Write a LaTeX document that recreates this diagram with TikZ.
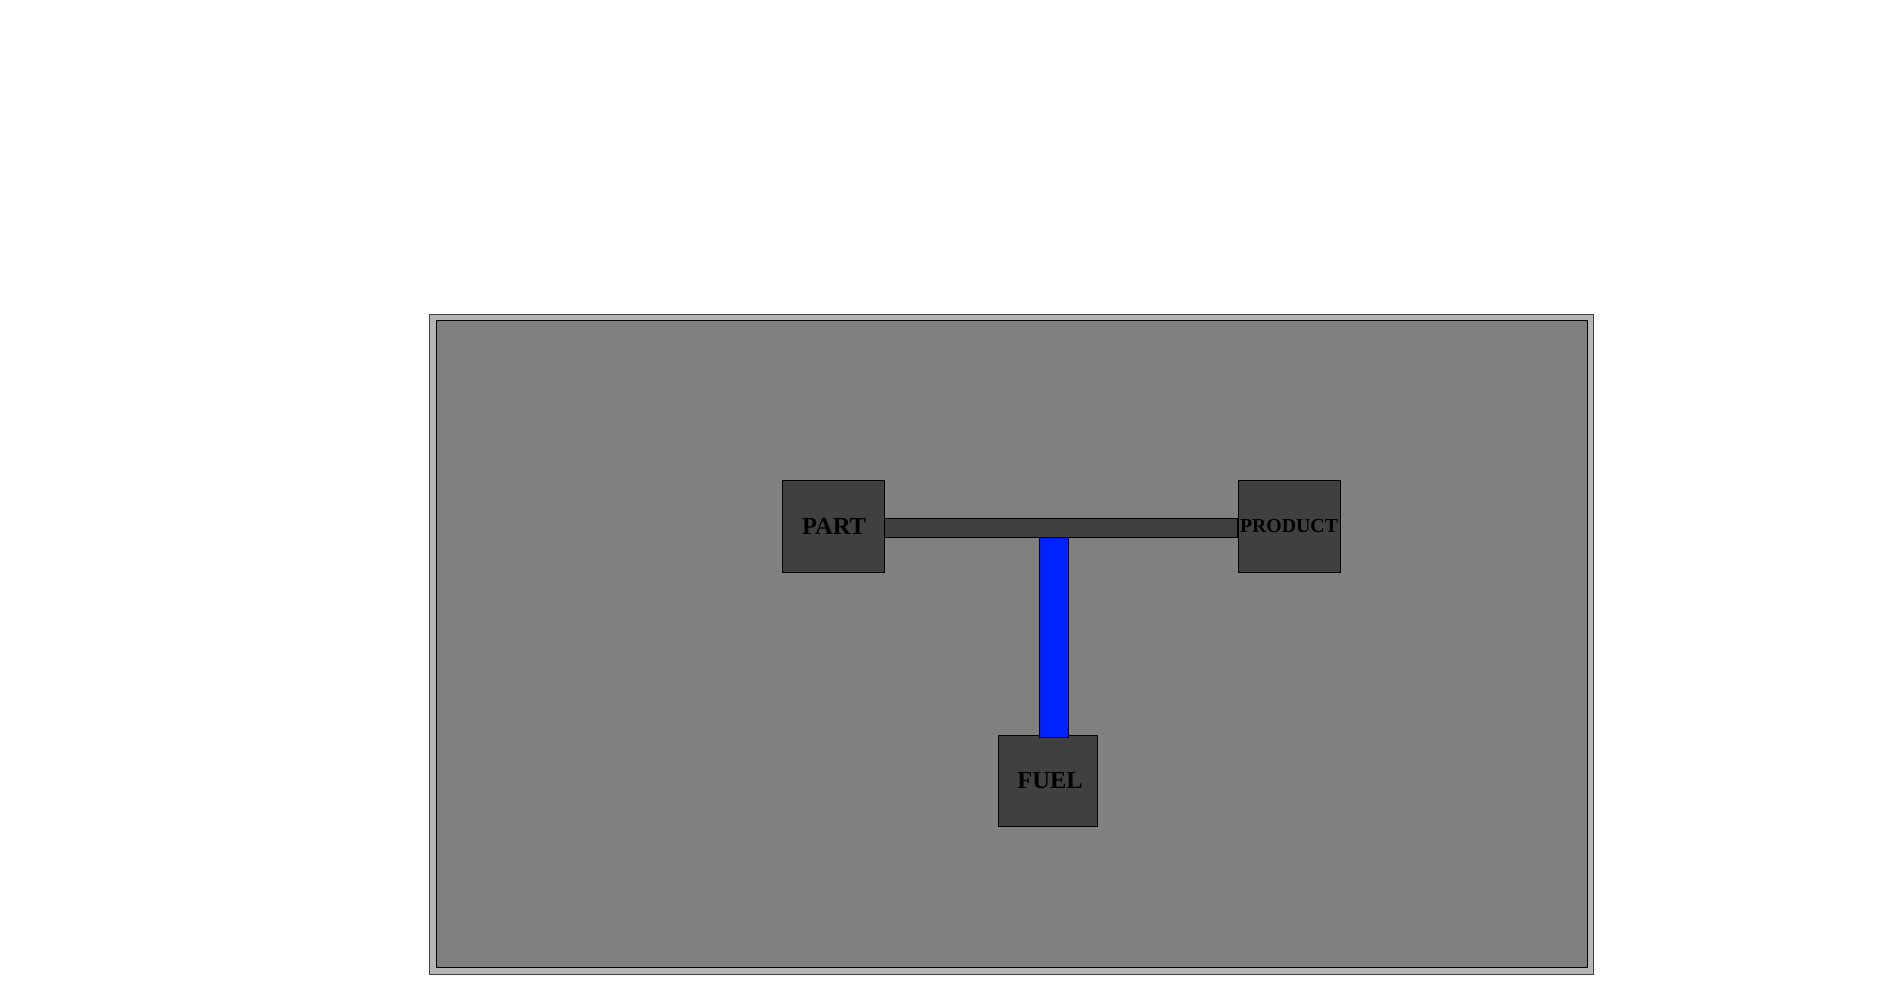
\documentclass[tikz,border=0pt]{standalone}
\usepackage{fontspec}
\setmainfont{Liberation Serif}
\definecolor{outerg}{HTML}{B6B6B6}
\definecolor{innerg}{HTML}{808080}
\definecolor{boxg}{HTML}{404040}
\definecolor{fuelblue}{HTML}{0022FF}
\begin{document}
\begin{tikzpicture}[x=1pt,y=-1pt,
  unitbox/.style={draw=black,line width=1pt,fill=boxg,minimum width=102pt,minimum height=92pt,inner sep=0pt,text=black,font=\bfseries},
  barline/.style={draw=black,line width=1pt}]
\useasboundingbox (0,0) rectangle (1900,1000);
\fill[white] (0,0) rectangle (1900,1000);
% frame
\draw[line width=1pt,draw=black!75,fill=outerg] (429,314) rectangle (1593,974);
\draw[line width=1pt,draw=black,fill=innerg] (436,320) rectangle (1587,967);
% units
\node[unitbox] (part) at (833,526) {\hspace{2pt}\fontsize{24.5}{24.5}\selectfont PART};
\node[unitbox] (product) at (1289,526.5) {\fontsize{19.8}{19.8}\selectfont PRODUCT};
\node[unitbox,minimum width=99pt,minimum height=91pt] (fuel) at (1047.5,780.5) {\fontsize{24.5}{24.5}\selectfont\hspace{5pt}FUEL};
% connectors
\draw[barline,fill=boxg] ([yshift=8pt]part.east) rectangle ([yshift=-11pt]product.west);
\coordinate (junction) at ([yshift=-11pt]part.east);
\draw[barline,fill=fuelblue] ([xshift=-8.5pt]fuel.north |- junction) rectangle ([xshift=20.5pt,yshift=-3pt]fuel.north);
\end{tikzpicture}
\end{document}
